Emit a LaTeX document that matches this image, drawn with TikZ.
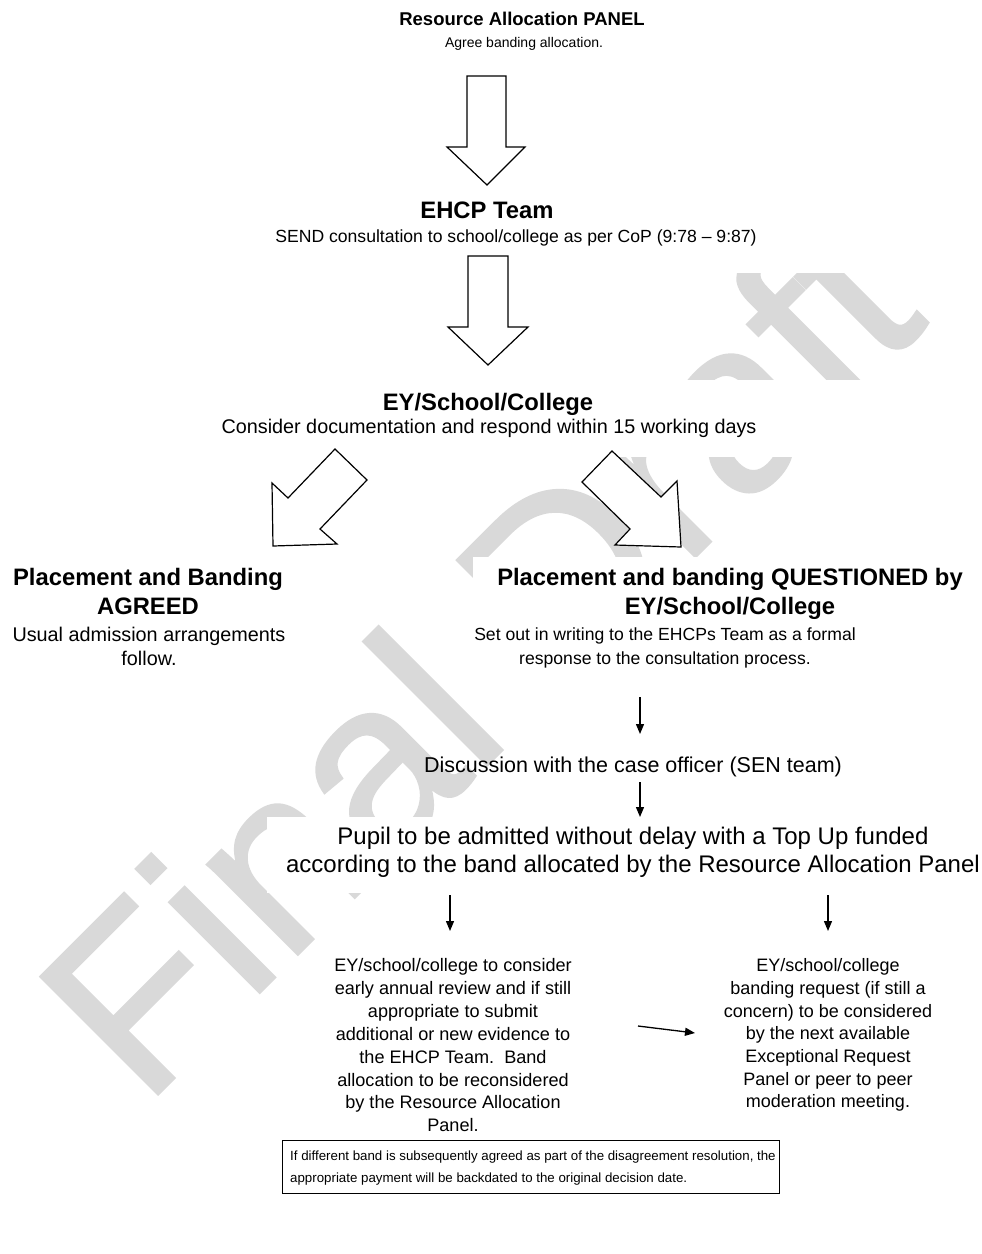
\documentclass[tikz,border=0pt]{standalone}
\usepackage{fontspec}
\setmainfont{Liberation Sans}
\newfontfamily\wmfont{Liberation Sans}[FakeBold=1.2]
\usetikzlibrary{arrows.meta}
\definecolor{wmgray}{RGB}{217,217,217}
\newcommand{\fsz}[2]{\fontsize{#1}{#2}\selectfont}
\begin{document}
\begin{tikzpicture}[x=1pt,y=-1pt,
  txt/.style={inner sep=0pt, anchor=north, align=center},
  ttl/.style={txt, font=\fsz{23.8}{29}\bfseries},
  sub/.style={txt, font=\fsz{19.8}{24}},
  blk/.style={draw=black, line width=1.2pt, fill=white, line join=miter},
  con/.style={line width=1.3pt, -{Triangle[length=10pt,width=8pt]}},
  mask/.style={fill=white, draw=none}
]
\useasboundingbox (0,0) rectangle (982,1254);
% watermark
\node[wmgray, rotate=45, anchor=base west, inner sep=0pt, font=\wmfont\fsz{241}{241}] (wm) at (144,1108) {Final Draft};
\fill[mask] (0,0) rectangle (982,273);
\fill[mask] (0,380) rectangle (982,457);
\fill[mask] (473,557) rectangle (982,680);
\fill[mask] (267,817) rectangle (982,893);

% top
\node[txt, font=\fsz{18.5}{22}\bfseries] (rap) at (522,11.4) {Resource Allocation PANEL};
\node[txt, font=\fsz{14}{17}] (raps) at (524,37) {Agree banding allocation.};
\draw[blk] (467,76) -- (506,76) -- (506,147) -- (525,147) -- (487,185) -- (447,147) -- (467,147) -- cycle;

\node[ttl] (ehcp) at (487,201.4) {EHCP Team};
\node[txt, font=\fsz{17.6}{22}] (ehcps) at (516,229.7) {SEND consultation to school/college as per CoP (9:78 -- 9:87)};
\draw[blk] (468,256) -- (508,256) -- (508,327) -- (528,327) -- (488,365) -- (448,327) -- (468,327) -- cycle;

\node[ttl] (ey) at (488,393.4) {EY/School/College};
\node[sub] (eys) at (489,418.9) {Consider documentation and respond within 15 working days};

\draw[blk] (335,449) -- (367,480) -- (320,529) -- (337,544) -- (273,546) -- (272,483) -- (288,498) -- cycle;
\draw[blk] (612,451) -- (582,482) -- (630,529) -- (615,545) -- (681,547) -- (677,481) -- (661,497) -- cycle;

\node[ttl] (agr) at (148,568.4) {Placement and Banding\\AGREED};
\node[sub] (agrs) at (149,626.9) {Usual admission arrangements\\follow.};

\node[ttl] (qst) at (730,568.4) {Placement and banding QUESTIONED by\\EY/School/College};
\node[txt, font=\fsz{17.6}{24}] (qsts) at (665,627.7) {Set out in writing to the EHCPs Team as a formal\\response to the consultation process.};

\node[txt, font=\fsz{21.5}{26}] (disc) at (633,756.3) {Discussion with the case officer (SEN team)};
\node[txt, font=\fsz{24}{28}] (pupil) at (633,826.4) {Pupil to be admitted without delay with a Top Up funded\\according to the band allocated by the Resource Allocation Panel};

\node[txt, font=\fsz{18.1}{22.85}] (lp) at (453,958.5) {EY/school/college to consider\\early annual review and if still\\appropriate to submit\\additional or new evidence to\\the EHCP Team.\ \ Band\\allocation to be reconsidered\\by the Resource Allocation\\Panel.};
\node[txt, font=\fsz{18}{22.7}] (rp) at (828,958.5) {EY/school/college\\banding request (if still a\\concern) to be considered\\by the next available\\Exceptional Request\\Panel or peer to peer\\moderation meeting.};

\node[draw=black, line width=1pt, minimum width=497pt, minimum height=53pt, inner sep=0pt] (note) at (530.5,1166.5) {};
\node[inner sep=0pt, anchor=north west, align=left, font=\fsz{13.3}{22}] (notet) at (290,1150.2) {If different band is subsequently agreed as part of the disagreement resolution, the\\appropriate payment will be backdated to the original decision date.};

% connectors
\coordinate (a1s) at (640,697); \coordinate (a1e) at (640,734);
\coordinate (a2s) at (640,782); \coordinate (a2e) at (640,817);
\coordinate (a3s) at (450,895); \coordinate (a3e) at (450,931);
\coordinate (a4s) at (828,895); \coordinate (a4e) at (828,931);
\coordinate (a5s) at (638,1026); \coordinate (a5e) at (695,1033);
\draw[con] (a1s) -- (a1e);
\draw[con] (a2s) -- (a2e);
\draw[con] (a3s) -- (a3e);
\draw[con] (a4s) -- (a4e);
\draw[con] (a5s) -- (a5e);
\end{tikzpicture}
\end{document}
